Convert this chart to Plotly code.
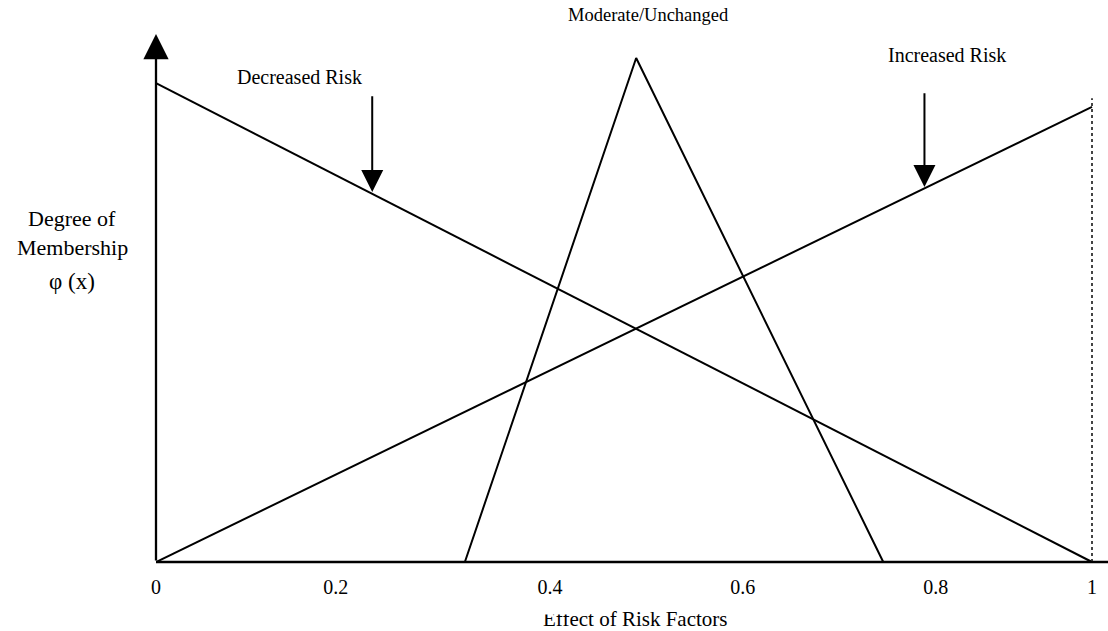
import plotly.graph_objects as go

# ---- data ----
tick_positions = [0, 0.192, 0.421, 0.627, 0.833, 1.0]
tick_labels = ["0", "0.2", "0.4", "0.6", "0.8", "1"]

decreased_x = [0, 1]
decreased_y = [0.95, 0]

increased_x = [0, 1]
increased_y = [0, 0.903]

moderate_x = [0.33, 0.513, 0.777]
moderate_y = [0, 1, 0]

dotted_x = [1, 1]
dotted_y = [0, 0.92]

label_decreased = "Decreased Risk"
label_increased = "Increased Risk"
label_moderate = "Moderate/Unchanged"
x_title = "Effect of Risk Factors"
y_title_lines = ["Degree of", "Membership", "φ (x)"]

FONT = "Liberation Serif, Times New Roman, serif"
W, H = 1108, 631
ML, MR, MT, MB = 156, 0, 34, 0
AXIS_Y = 562            # pixel row of the x axis (value 0)
PW, PH = W - ML - MR, H - MT - MB
X_UNIT, Y_UNIT = 936.0, 504.0
XMAX = PW / X_UNIT
YMIN = -(H - MB - AXIS_Y) / Y_UNIT
YMAX = (AXIS_Y - MT) / Y_UNIT


def px_x(p):
    return (p - ML) / PW


def px_y(p):
    return (H - MB - p) / PH


fig = go.Figure()
line_style = dict(color="black", width=2)
fig.add_trace(go.Scatter(x=decreased_x, y=decreased_y, mode="lines", line=line_style, hoverinfo="skip"))
fig.add_trace(go.Scatter(x=increased_x, y=increased_y, mode="lines", line=line_style, hoverinfo="skip"))
fig.add_trace(go.Scatter(x=moderate_x, y=moderate_y, mode="lines", line=line_style, hoverinfo="skip"))
fig.add_trace(go.Scatter(x=dotted_x, y=dotted_y, mode="lines",
                         line=dict(color="#444", width=2, dash="dot"), hoverinfo="skip"))
# x-axis line + arrow blob at right edge
fig.add_trace(go.Scatter(x=[0, XMAX], y=[0, 0], mode="lines", line=dict(color="black", width=2.5),
                         hoverinfo="skip", cliponaxis=False))
fig.add_trace(go.Scatter(x=[(1109 - ML) / X_UNIT], y=[-1.5 / Y_UNIT], mode="markers",
                         marker=dict(symbol="circle", size=12, color="black"),
                         hoverinfo="skip", cliponaxis=True))
# tick labels
fig.add_trace(go.Scatter(x=tick_positions, y=[-26.5 / Y_UNIT] * len(tick_positions), mode="text",
                         text=tick_labels, textposition="middle center",
                         textfont=dict(family=FONT, size=20, color="black"),
                         hoverinfo="skip", cliponaxis=False))

annotations = []
# y-axis with arrow
annotations.append(dict(x=0, y=YMAX, ax=0, ay=0, xref="x", yref="y", axref="x", ayref="y",
                        showarrow=True, arrowhead=2, arrowsize=2.2, arrowwidth=2.3, arrowcolor="black", text=""))
# pointer arrows
annotations.append(dict(x=0.231, y=0.734, ax=0.231, ay=0.927, xref="x", yref="y", axref="x", ayref="y",
                        showarrow=True, arrowhead=2, arrowsize=2.2, arrowwidth=2, arrowcolor="black", text=""))
annotations.append(dict(x=0.821, y=0.744, ax=0.821, ay=0.933, xref="x", yref="y", axref="x", ayref="y",
                        showarrow=True, arrowhead=2, arrowsize=2.2, arrowwidth=2, arrowcolor="black", text=""))
# labels
annotations.append(dict(x=px_x(299), y=px_y(77), xref="paper", yref="paper", xanchor="center", yanchor="middle",
                        text=label_decreased, showarrow=False, font=dict(family=FONT, size=20, color="black")))
annotations.append(dict(x=px_x(947), y=px_y(55), xref="paper", yref="paper", xanchor="center", yanchor="middle",
                        text=label_increased, showarrow=False, font=dict(family=FONT, size=20, color="black")))
annotations.append(dict(x=px_x(648), y=px_y(15), xref="paper", yref="paper", xanchor="center", yanchor="middle",
                        text=label_moderate, showarrow=False, font=dict(family=FONT, size=18.5, color="black")))
annotations.append(dict(x=px_x(635), y=px_y(619), xref="paper", yref="paper", xanchor="center", yanchor="middle",
                        text=x_title, showarrow=False, font=dict(family=FONT, size=21, color="black")))
# white box that clips the top of the first letters of the x title, as in the source
annotations.append(dict(x=px_x(558), y=px_y(604.5), xref="paper", yref="paper", xanchor="center", yanchor="middle",
                        text=" ", showarrow=False, width=36, height=17, bgcolor="white",
                        font=dict(family=FONT, size=8, color="white")))
for line_text, line_y, fsize in zip(y_title_lines, [218, 247, 281], [22, 22, 23]):
    annotations.append(dict(x=px_x(72), y=px_y(line_y), xref="paper", yref="paper", xanchor="center",
                            yanchor="middle", text=line_text, showarrow=False,
                            font=dict(family=FONT, size=fsize, color="black")))

fig.update_layout(
    width=W, height=H,
    margin=dict(l=ML, r=MR, t=MT, b=MB, pad=0),
    paper_bgcolor="white", plot_bgcolor="white",
    showlegend=False,
    annotations=annotations,
    xaxis=dict(range=[0, XMAX], showgrid=False, zeroline=False, showline=False,
               showticklabels=False, ticks="", fixedrange=True),
    yaxis=dict(range=[YMIN, YMAX], showgrid=False, zeroline=False, showline=False,
               showticklabels=False, ticks="", fixedrange=True),
)

fig.write_html("out.html", config={"displayModeBar": False},
               post_script="document.body.style.margin='0';document.body.style.overflow='hidden';")
